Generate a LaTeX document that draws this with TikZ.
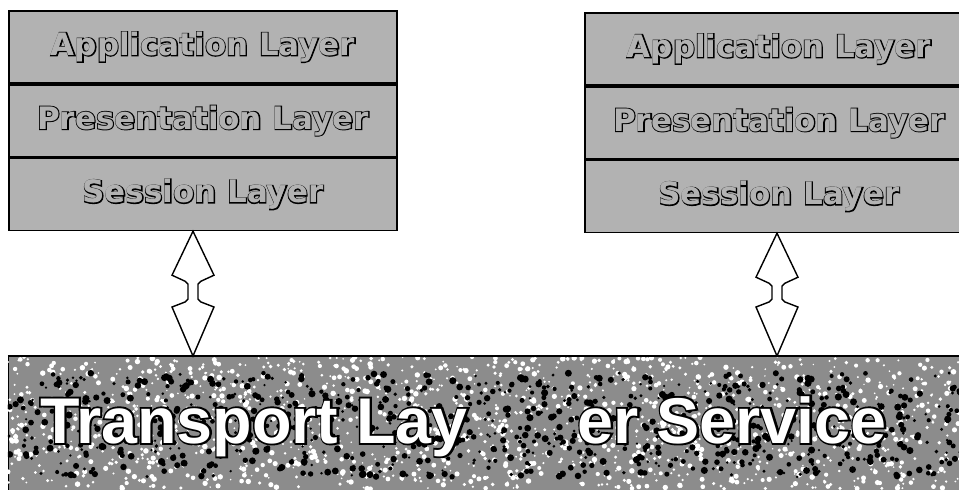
\documentclass[tikz,border=0pt]{standalone}
\usepackage{fontspec}
\usepackage{tikz}
\usetikzlibrary{positioning}

\newfontfamily\layerfont{DejaVu Sans}
\newfontfamily\bandfont{Liberation Sans}

% letters with a black halo behind the filled letters
\newcommand{\haloed}[2]{\rlap{\special{pdf:literal 0 G 1 Tr #1 w}#2\special{pdf:literal 0 Tr}}#2}
% hollow double arrow between two coordinates
\newcommand{\duplex}[2]{%
\draw[duplex] (#1) -- +(-21,44) -- +(-8,50) -- +(-5,53)
  -- ([shift={(-5,-57)}]#2) -- ([shift={(-8,-54)}]#2) -- ([shift={(-21,-49)}]#2)
  -- (#2) -- ([shift={(21,-49)}]#2) -- ([shift={(8,-54)}]#2) -- ([shift={(5,-57)}]#2)
  -- ([shift={(5,53)}]#1) -- ([shift={(8,50)}]#1) -- ([shift={(21,44)}]#1) -- cycle;}

\begin{document}
\begin{tikzpicture}[
  layer/.style={draw, line width=1.2pt, fill=black!30, minimum width=9.7cm,
    minimum height=1.8cm, inner sep=0pt, text=black!30,
    font=\layerfont\bfseries\fontsize{22}{24}\selectfont},
  duplex/.style={fill=white, draw, line width=1pt, x=0.025cm, y=-0.025cm}
]
\clip (0,0) rectangle (23.975,12.225);

% left stack
\node[layer] (appL) at (5.075,11.05) {\haloed{1.3}{Application Layer}};
\node[layer, below=0pt of appL] (presL) {\haloed{1.3}{Presentation Layer}};
\node[layer, below=0pt of presL] (sesL) {\haloed{1.3}{Session Layer}};

% right stack
\node[layer] (appR) at (19.475,11.0) {\haloed{1.3}{Application Layer}};
\node[layer, below=0pt of appR] (presR) {\haloed{1.3}{Presentation Layer}};
\node[layer, below=0pt of presR] (sesR) {\haloed{1.3}{Session Layer}};

% transport band
\node[draw, line width=1pt, fill=black!45, anchor=north west, minimum width=24.5cm,
  minimum height=3.6cm] (trans) at (0.2,3.325) {};
\begin{scope}
\clip (trans.south west) rectangle (trans.north east);
\pgfmathsetseed{7}
\foreach \i in {1,...,1600}{
  \pgfmathsetmacro{\sx}{0.2+23.8*rnd}
  \pgfmathsetmacro{\sy}{3.3*rnd}
  \pgfmathsetmacro{\sr}{0.02+0.05*rnd}
  \fill[white] (\sx,\sy) circle (\sr);
}
\foreach \i in {1,...,900}{
  \pgfmathsetmacro{\sx}{0.2+23.8*rnd}
  \pgfmathsetmacro{\sy}{0.3+2.6*rnd}
  \pgfmathsetmacro{\sr}{0.03+0.06*rnd}
  \fill[black] (\sx,\sy) circle (\sr);
}
\end{scope}
\draw[line width=1pt] (trans.north west) -- (trans.north east);
\node[anchor=base west, inner sep=0pt, text=white,
  font=\bandfont\bfseries\fontsize{46}{50}\selectfont]
  (transtext) at (1.0,1.15) {\haloed{2.6}{Transport Lay\hspace{78pt}er Service}};

% arrows
\coordinate (topL) at ([xshift=-0.25cm]sesL.south);
\coordinate (botL) at (topL |- trans.north);
\duplex{topL}{botL}
\coordinate (topR) at ([xshift=-0.05cm]sesR.south);
\coordinate (botR) at (topR |- trans.north);
\duplex{topR}{botR}

\end{tikzpicture}
\end{document}
